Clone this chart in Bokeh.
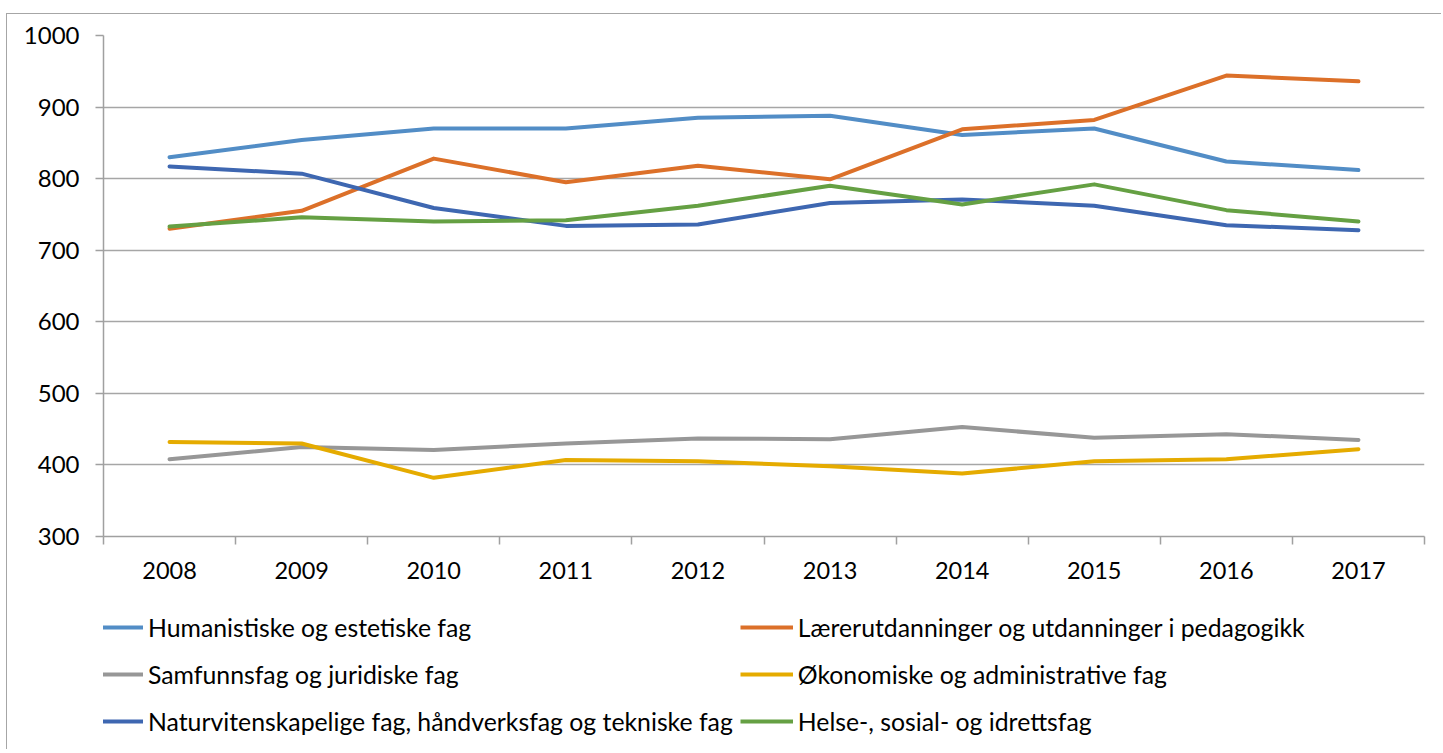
from bokeh.plotting import figure
from bokeh.layouts import column
from bokeh.models import Legend, LegendItem, FixedTicker, Range1d
from bokeh.embed import file_html
from bokeh.resources import INLINE

years = [2008, 2009, 2010, 2011, 2012, 2013, 2014, 2015, 2016, 2017]
humanistiske = [830, 854, 870, 870, 885, 888, 861, 870, 824, 812]
laerer = [730, 755, 828, 795, 818, 799, 869, 882, 944, 936]
samfunn = [408, 425, 421, 430, 437, 436, 453, 438, 443, 435]
okonomi = [432, 430, 382, 407, 405, 398, 388, 405, 408, 422]
natur = [817, 807, 759, 734, 736, 766, 771, 762, 735, 728]
helse = [733, 746, 740, 742, 762, 790, 764, 792, 756, 740]

names = [
    "Humanistiske og estetiske fag",
    "Lærerutdanninger og utdanninger i pedagogikk",
    "Samfunnsfag og juridiske fag",
    "Økonomiske og administrative fag",
    "Naturvitenskapelige fag, håndverksfag og tekniske fag",
    "Helse-, sosial- og idrettsfag",
]
series = [humanistiske, laerer, samfunn, okonomi, natur, helse]
colors = ["#528DC6", "#DC7029", "#979797", "#E5AB00", "#3E67B1", "#65A043"]
y_ticks = [300, 400, 500, 600, 700, 800, 900, 1000]

FONT = "Lato"
W = 1434

p = figure(width=W, height=580, output_backend="svg", toolbar_location=None,
           x_range=Range1d(years[0] - 0.5, years[-1] + 0.5),
           y_range=Range1d(300, 1000),
           min_border_left=96, min_border_right=17, min_border_top=21,
           min_border_bottom=58)
p.outline_line_color = None
p.background_fill_color = "white"

# y axis
p.yaxis.ticker = FixedTicker(ticks=y_ticks)
p.yaxis.axis_line_color = "#a0a0a0"
p.yaxis.axis_line_width = 1.5
p.yaxis.major_tick_line_color = "#a0a0a0"
p.yaxis.major_tick_line_width = 1.5
p.yaxis.major_tick_out = 8
p.yaxis.major_tick_in = 0
p.yaxis.minor_tick_line_color = None
p.yaxis.major_label_text_font = FONT
p.yaxis.major_label_text_font_size = "24px"
p.yaxis.major_label_text_color = "black"
p.yaxis.major_label_standoff = 16

# x axis
p.xaxis.ticker = FixedTicker(ticks=years, minor_ticks=[y - 0.5 for y in years] + [years[-1] + 0.5])
p.xaxis.axis_line_color = "#a0a0a0"
p.xaxis.axis_line_width = 1.5
p.xaxis.major_tick_line_color = None
p.xaxis.major_tick_out = 8
p.xaxis.minor_tick_line_color = "#a0a0a0"
p.xaxis.minor_tick_line_width = 1.5
p.xaxis.minor_tick_out = 8
p.xaxis.minor_tick_in = 0
p.xaxis.major_label_text_font = FONT
p.xaxis.major_label_text_font_size = "23.5px"
p.xaxis.major_label_text_color = "black"
p.xaxis.major_label_standoff = 17

p.xgrid.grid_line_color = None
p.ygrid.ticker = FixedTicker(ticks=y_ticks)
p.ygrid.grid_line_color = "#a6a6a6"
p.ygrid.grid_line_width = 1.5

for vals, c in zip(series, colors):
    p.line(years, vals, line_color=c, line_width=4, line_cap="round", line_join="round")

# legend panel (series drawn outside its visible range, only legend shows)
q = figure(width=W, height=155, output_backend="svg", toolbar_location=None,
           x_range=Range1d(0, 1), y_range=Range1d(0, 1),
           x_axis_type=None, y_axis_type=None, min_border=0)
q.outline_line_color = None
q.grid.grid_line_color = None
rs = {}
for n, vals, c in zip(names, series, colors):
    rs[n] = q.line(years, vals, line_color=c, line_width=4)

order = [0, 2, 4, 1, 3, 5]  # column-major fill -> row-major appearance
items = [LegendItem(label=names[i], renderers=[rs[names[i]]]) for i in order]
legend = Legend(items=items, ncols=2, location=(-13, 8),
                label_text_font=FONT, label_text_font_size="24.8px",
                label_text_color="black", glyph_width=53, glyph_height=40,
                label_height=40, label_standoff=5, spacing=7, padding=0, margin=0,
                border_line_color=None, background_fill_alpha=0,
                click_policy="none")
q.add_layout(legend, "center")

layout = column(p, q, spacing=0,
                styles={"margin-top": "13px", "margin-left": "6px",
                        "border-top": "1px solid #a6a6a6",
                        "border-left": "1px solid #a6a6a6"})

open("out.html", "w").write(file_html(layout, INLINE))
